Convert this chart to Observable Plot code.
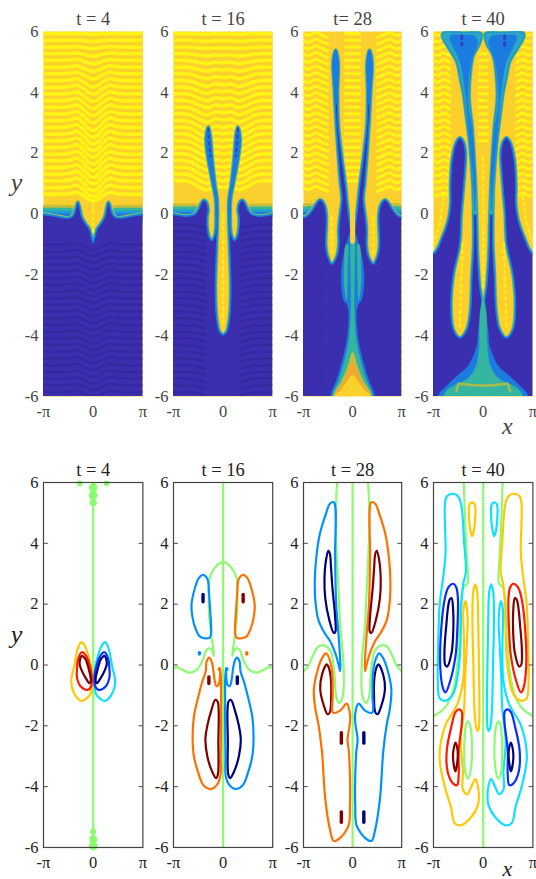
<!DOCTYPE html>
<html><head><meta charset="utf-8">
<script src="https://cdn.jsdelivr.net/npm/d3@7"></script>
<script src="https://cdn.jsdelivr.net/npm/@observablehq/plot@0.6"></script>
<style>
html,body{margin:0;padding:0;background:#fff;width:536px;height:879px;overflow:hidden}
#page{position:relative;width:536px;height:879px;overflow:hidden}
#page svg{position:absolute;max-width:none;background:transparent;overflow:visible}
.heat g[aria-label="line"],.heat g[aria-label="frame"]{filter:blur(.7px)}
.heat text{fill:#444}
</style></head><body><div id="page"></div>
<script>
const PI = Math.PI;
// ---------- axes / labels
const titlesTop = ["t = 4", "t = 16", "t= 28", "t = 40"];
const titlesBottom = ["t = 4", "t = 16", "t = 28", "t = 40"];
const yTicks = [-6, -4, -2, 0, 2, 4, 6];
const innerTicks = [-4, -2, 0, 2, 4];
const xTicks = [-PI, 0, PI];
const xTickLabels = ["-π", "0", "π"];

// ---------- heat map: stripe rows
const upperLevels = [5.93,5.71,5.49,5.27,5.05,4.83,4.61,4.39,4.17,3.95,3.73,3.51,3.29,3.07,2.85,2.63,2.41,2.19,1.97,1.75,1.53,1.31,1.09,.87,.65];
const upperFade = [.05,.1,.15,.25,.35,.45,.55,.65,.7,.75,.8,.85,.9,1,1,1,1,1,1,1,1,1,1,.9,.7];
const lowerLevels = [-.35,-.57,-.79,-1.01,-1.23,-1.45,-1.67,-1.89,-2.11,-2.33,-2.55,-2.77,-2.99,-3.21,-3.43,-3.65,-3.87,-4.09,-4.31,-4.53,-4.75,-4.97,-5.19,-5.41,-5.63,-5.85];
const waveX1 = [-3.2,-1.9,-1.45,-1.05,-.6,-.25,0,.25,.6,1.05,1.45,1.9,3.2];
const waveY1 = [0,0,.03,.09,-.08,-.27,-.33,-.27,-.08,.09,.03,0,0];
const waveX2 = [-3.2,-2.4,-2,-1.5,-1,-.5,0,.5,1,1.5,2,2.4,3.2];
const waveY2 = [0,0,-.05,-.2,-.3,-.18,-.22,-.18,-.3,-.2,-.05,0,0];
const zigX3L = [-3.2,-2.8,-2.35,-1.95,-1.6];
const zigY3 = [-.02,-.12,.07,-.1,-.24];
const zigX3R = [1.6,1.95,2.35,2.8,3.2];
const zigY3R = [-.24,-.1,.07,-.12,-.02];
const zigX4L = [-3.2,-2.85,-2.5,-2.1];
const zigY4 = [0,-.1,.06,-.12];
const zigX4R = [2.1,2.5,2.85,3.2];
const zigY4R = [-.12,.06,-.1,0];
const ladder3 = [-.45,.45];
const ladder4 = [-.26,.26];
const flat2 = [0,0];
const lowX2L = [-3.2,-1.8,-1.15];
const lowX2R = [1.15,1.8,3.2];
const lowY2L = [0,-.05,-.22];
const lowY2R = [-.22,-.05,0];
const lowX3L = [-3.2,-1.95];
const lowX3R = [1.95,3.2];

// ---------- heat map: region outlines (right half, mirrored on x = 0)
const blue1 = [[0,-.95],[.1,-.78],[.25,-.5],[.55,-.28],[.75,-.08],[.86,.2],[.97,.38],[1.08,.2],[1.2,0],[1.4,-.12],[1.7,-.14],[4,-.14],[4,-7],[0,-7]];
const blue2 = [[0,-3.98],[.25,-3.85],[.42,-3.4],[.5,-2.5],[.45,-1.5],[.38,-.5],[.36,0],[.38,.5],[.53,1],[.73,2],[.8,2.5],[.93,2.85],[1.07,2.5],[1,2],[.65,1],[.47,.5],[.44,0],[.46,-.5],[.55,-.75],[.72,-.88],[.9,-.75],[1,-.5],[1.02,-.1],[.95,.15],[1.08,.4],[1.22,.45],[1.38,.35],[1.55,.15],[1.8,-.02],[2.3,-.08],[4,-.1],[4,-7],[0,-7]];
const blue3 = [[0,-.8],[.15,-.5],[.2,-.3],[.3,.1],[.48,1],[.73,2],[.93,3],[.97,4],[.93,5],[1.08,5.38],[1.24,5],[1.15,4],[1.05,3],[.92,2],[.77,1],[.67,.5],[.78,0],[.88,-.5],[.87,-1],[1,-1.4],[1.33,-1.65],[1.6,-1.4],[1.73,-1],[1.7,-.5],[1.68,-.1],[1.78,.25],[1.95,.42],[2.1,.46],[2.3,.35],[2.6,.1],[3,-.1],[4,-.2],[4,-7],[0,-7]];
const blue4 = [[0,-3],[.2,-2.5],[.35,-1.5],[.43,0],[.5,1],[.6,2],[.72,2.9],[.9,3.8],[.85,4.5],[.65,5.2],[.25,5.6],[.15,5.92],[1.2,5.94],[2.55,5.92],[1.65,5],[1.45,4.5],[1.25,4],[1.12,3.5],[1,3],[.88,2.5],[.65,1],[.6,0],[.6,-1],[.7,-2],[.8,-3.2],[1.02,-3.8],[1.47,-4.08],[1.9,-3.8],[2.05,-3],[1.9,-2],[1.5,-1],[1.4,0],[1.24,1],[1.13,2],[1.25,2.35],[1.47,2.5],[1.7,2.35],[1.95,1.8],[2.05,1],[2.05,.3],[2.2,-.2],[2.6,-.8],[3.1,-1.3],[4,-1.4],[4,-7],[0,-7]];
// interface halos
const halo1 = [[-4,-.06],[-1.5,-.06]];
const halo1R = [[1.5,-.06],[4,-.06]];
const halo2 = [[-4,-.02],[-1.8,-.02]];
const halo2R = [[1.8,-.02],[4,-.02]];
// overlays for t = 16
const core2 = [[.93,2.8],[.9,2.4],[.8,1.9]];
const mid2 = [[.93,2.85],[1.07,2.5],[1,2],[.65,1],[.47,.5],[.44,0],[.36,0],[.38,.5],[.53,1],[.73,2],[.8,2.5]];
const dots2 = [[0,-3.6],[0,.1]];
// overlays for t = 28
const upper3 = [[1.08,5.38],[1.24,5],[1.16,4.2],[1.07,3.6],[.98,3.6],[.97,4.2],[.93,5]];
const column3a = [[0,-.5],[.4,-1],[.7,-1.8],[.72,-2.3],[.55,-2.85],[.38,-2.95],[.25,-3.2],[.3,-3.9],[.45,-4.4],[.75,-5],[1.05,-5.5],[1.4,-5.95],[1.4,-7],[0,-7]];
const column3b = [[0,-.4],[.14,-1],[.12,-2],[.1,-3],[.2,-4],[.36,-4.5],[.6,-5],[.9,-5.5],[1.25,-5.92],[1.25,-7],[0,-7]];
const mini3 = [[.42,-1],[.54,-1.8],[.52,-2.4],[.38,-2.85],[.34,-2.3],[.3,-1.5],[.32,-1]];
const flare3a = [[0,-4.55],[.3,-5],[.7,-5.5],[1.18,-5.93],[1.18,-7],[0,-7]];
const flare3b = [[0,-4.9],[.45,-5.4],[.8,-5.7],[1.12,-5.93],[1.12,-7],[0,-7]];
const flare3c = [[0,-5.3],[.4,-5.55],[.85,-5.85],[1.08,-5.93],[1.08,-7],[0,-7]];
const dots3 = [[1.33,-.1],[1.33,-1.35]];
const center3 = [[0,.2],[0,-.9]];
// overlays for t = 40
const funnel4a = [[.15,5.92],[1.2,5.94],[2.55,5.92],[1.65,5],[1.45,4.5],[1.25,4],[1.12,3.5],[1,3],[.88,2.5],[.65,1],[.6,0],[.43,0],[.5,1],[.6,2],[.72,2.9],[.9,3.8],[.85,4.5],[.65,5.2],[.25,5.6]];
const funnel4b = [[.55,5.85],[1.3,5.88],[2.1,5.85],[1.45,5],[1.2,4.3],[1.03,3.5],[.92,2.8],[.6,1],[.54,.1],[.5,1],[.72,2.8],[.95,3.5],[.95,4.3],[.72,5.1],[.35,5.65]];
const funnelSpot = [[1.35,5.85],[1.35,5.55]];
const flare4a = [[0,-3.3],[.3,-3.8],[.38,-4.3],[.95,-5],[1.6,-5.3],[2.4,-5.7],[2.8,-5.95],[2.8,-7],[0,-7]];
const flare4b = [[0,-2.75],[.2,-3.3],[.26,-4.4],[.45,-5],[.95,-5.4],[2,-5.68],[2.45,-5.92],[2.45,-7],[0,-7]];
const band4 = [[-1.7,-5.82],[-1.55,-5.58],[-.8,-5.62],[0,-5.65],[.8,-5.62],[1.55,-5.58],[1.7,-5.82]];
const dots4 = [[1.47,-3.7],[1.3,-.9]];
const dots4b = [[0,-2.4],[0,2]];
const side4 = [[3.14,-1.0],[2.7,-.2],[2.5,.6]];

// ---------- contour map: t = 4
const c1outer = [[.76,.75],[1.0,.5],[1.18,0],[1.39,-.53],[1.24,-.9],[.76,-1.18],[.23,-1],[.08,-.7],[.1,-.3],[.15,0],[.3,.3],[.5,.6]];
const c1mid = [[.72,.42],[.95,.2],[1.02,-.1],[1.03,-.4],[.8,-.7],[.35,-.82],[.13,-.7],[.1,-.3],[.25,.05],[.45,.3]];
const c1inner = [[.72,.3],[.86,.05],[.75,-.15],[.45,-.45],[.23,-.6],[.15,-.5],[.3,-.1],[.5,.2]];
const c1blobsX = [0,0,0,0,0,0,.85,-.85];
const c1blobsY = [5.83,5.58,5.34,-5.48,-5.73,-5.95,5.97,5.97];
const c1blobsR = [2.8,3,2,1.4,2.4,3,1.2,1.2];
// t = 16
const c2arch = [[0,3.4],[.35,3.3],[.65,3.1],[.86,2.85],[.9,2.5],[.88,1.6],[.7,.8],[.57,.3],[.72,.5],[.92,.55],[1.1,.45],[1.25,.2],[1.45,0],[1.65,-.15],[2.1,-.25],[2.5,-.18],[2.9,-.08],[3.3,-.1]];
const c2top = [[.95,2.75],[1.08,2.9],[1.28,2.96],[1.55,2.85],[1.8,2.5],[2,2],[1.95,1.6],[1.75,1.2],[1.5,.95],[1.2,.88],[.85,.9],[.76,1.05],[.82,1.8],[.9,2.4]];
const c2low = [[.18,-.12],[.2,-.4],[.28,-.65],[.42,-.7],[.52,-.55],[.6,-.25],[.72,.1],[.88,.24],[1.05,.1],[1.1,-.2],[1.35,-.6],[1.6,-1.1],[1.85,-1.7],[1.93,-2.4],[1.85,-3],[1.6,-3.5],[1.25,-3.95],[.8,-4.08],[.4,-3.95],[.17,-3.65],[.15,-3],[.13,-2],[.13,-1],[.13,-.5]];
const c2navy = [[.35,-1.2],[.5,-1.15],[.75,-1.5],[1,-2],[1.12,-2.45],[1,-3],[.7,-3.5],[.45,-3.72],[.33,-3.6],[.3,-2.5],[.28,-1.5]];
const c2spotX = [-1.27,1.27,-.9,.9,-1.5,1.5,-.23,.23];
const c2spotY = [2.2,2.2,-.5,-.5,.38,.38,-.14,-.14];
const c2spotH = [.12,.12,.11,.11,.02,.02,.02,.02];
const c2spotC = ["#00007f","#7f0000","#7f0000","#00007f","#0090ff","#ff7000","#ff7000","#0090ff"];
// t = 28
const c3green = [[.97,6.2],[1.05,5.4],[1.07,4.5],[1,3.5],[.88,2.2],[.78,1.2],[.65,.5],[.58,0],[.62,-1],[.85,-1.25],[1.03,-1.1],[1.15,-.4],[1.25,.1],[1.4,.45],[1.9,.65],[2.2,.6],[2.55,.3],[2.85,-.05],[3.3,-.28]];
const c3big = [[1.2,5.35],[1.45,5.3],[1.75,4.9],[2.1,4.3],[2.35,3.4],[2.42,2.7],[2.38,2.1],[2.2,1.5],[1.85,1.1],[1.4,.75],[1.05,.3],[.85,-.1],[.8,-.2],[.78,0],[.9,1],[1.05,2],[1.12,3.5]];
const c3core = [[1.45,3.65],[1.55,3.75],[1.7,3.45],[1.8,2.8],[1.75,2.2],[1.5,1.5],[1.2,1.05],[1.1,1.1],[1.12,1.6],[1.3,2.6],[1.38,3.2]];
const c3bump = [[1.65,.02],[1.95,-.3],[2.07,-.8],[1.8,-1.4],[1.6,-1.62],[1.45,-1.55],[1.37,-1],[1.4,-.4],[1.55,-.05]];
const c3low = [[1.7,.38],[1.98,.2],[2.2,-.1],[2.48,-.8],[2.38,-1.45],[2.17,-2],[1.96,-2.85],[1.75,-4.4],[1.43,-5.45],[1.22,-5.78],[.9,-5.73],[.27,-5.3],[.17,-4.63],[.23,-2.9],[.32,-2.45],[.17,-1.9],[.17,-1.6],[.38,-1.27],[.8,-1.5],[1.25,-1.57],[1.27,-1],[1.3,-.3],[1.45,.15]];
const c3spotX = [-.72,.72,-.72,.72];
const c3spotY = [-2.4,-2.4,-5,-5];
const c3spotH = [.17,.17,.17,.17];
const c3spotC = ["#7f0000","#00007f","#7f0000","#00007f"];
// t = 40
const c4green = [[1.24,6.2],[1.15,4.8],[1.03,3.5],[.97,3],[1,2.68],[1.25,2.55],[1.35,2.3],[1.5,1.5],[1.58,.5],[1.7,-.3],[2,-1],[2.5,-1.45],[3.3,-1.72]];
const c4upper = [[1.9,5.63],[2.3,5.55],[2.42,5.3],[2.38,3.7],[2.5,3],[2.75,2],[2.85,.5],[2.87,-.5],[2.75,-1.1],[2.4,-1.18],[1.9,-.95],[1.6,-.3],[1.45,.5],[1.38,2],[1.25,2.7],[1.1,3.05],[1.2,4],[1.4,5.3],[1.6,5.55]];
const c4mid = [[1.9,2.67],[2.2,2.55],[2.42,2.2],[2.65,1.2],[2.72,0],[2.55,-.75],[2.38,-.9],[2.1,-.55],[1.75,.3],[1.65,1],[1.6,2.2],[1.7,2.55]];
const c4core = [[2,2.2],[2.12,2.15],[2.35,1.2],[2.45,.4],[2.4,0],[2.27,-.05],[2,.4],[1.9,1],[1.9,1.8]];
const c4lowerOuter = [[1.12,2.1],[1.25,1.8],[1.22,.8],[1.27,-.5],[1.63,-1.28],[2.4,-2],[2.76,-3],[2.44,-3.98],[2.05,-4.65],[1.8,-5.2],[1.4,-5.27],[.75,-5],[.33,-4.6],[.33,-4],[.5,-3.75],[.75,-4],[1,-4.25],[1.28,-4.1],[1.28,-3.5],[1.42,-2.5],[1.2,-1.4],[1.15,-.5],[1.03,.8],[.98,1.5]];
const c4column = [[.5,2.65],[.63,2.4],[.68,1.5],[.62,0],[.55,-1.5],[.45,-2.05],[.35,-2.17],[.27,-2.05],[.24,-1.5],[.27,0],[.32,1.5],[.38,2.4]];
const c4small = [[.65,5.34],[.85,5.3],[.9,4.9],[.8,4.4],[.7,4.24],[.6,4.4],[.5,4.9],[.52,5.25]];
const c4blob = [[.95,-1.85],[1.05,-1.9],[1.2,-3],[1.1,-3.6],[.95,-3.74],[.75,-3.3],[.72,-2.5],[.82,-2]];
const c4lowBlue = [[1.5,-1.46],[1.75,-1.55],[2,-2],[2.3,-2.8],[2.25,-3.5],[1.9,-3.9],[1.65,-3.95],[1.55,-3.6],[1.55,-2.8],[1.35,-1.9],[1.35,-1.55]];
const c4lowCore = [[1.75,-2.55],[1.88,-2.8],[1.9,-3.1],[1.75,-3.5],[1.62,-3.1],[1.62,-2.8]];

// ---------- colours
const BLUE="#3a2fae", DARK="#3529a3", DARK2="#382dab", AMBER="#fbcf2d", YELLOW="#fff416", MID="#1c7be0", LIGHT="#1e9fd8", TEAL="#33b5a0", OLIVE="#c6bd3a";
const NAVY="#00007f", DRED="#7f0000", AZ="#0090ff", ORG="#ff7000", CY="#10e0ff", YL="#ffc800", RED="#ff1a00", BL="#0a30ff", GRN="#8cfb72";

// ---------- helpers
const flip = pts => pts.map(([x,y]) => [-x,y]);
const whole = half => half.concat(flip(half).reverse().filter(p => p[0] !== 0));
const px = d => d[0], py = d => d[1];
const area = (pts, fill, extra={}) => Plot.line(pts, {x:px, y:py, fill, stroke:fill, strokeWidth:.5, curve:"catmull-rom-closed", clip:"frame", ...extra});
const region = pts => [[4.6,OLIVE],[3.5,TEAL],[2.4,LIGHT],[1.2,MID]].map(([w,c],i) =>
  Plot.line(pts, {x:px, y:py, stroke:c, strokeWidth:w, fill:i==3?BLUE:"none", curve:"catmull-rom-closed", clip:"frame", strokeLinejoin:"round"}));
const halo = pts => [[22,OLIVE],[16,TEAL],[10,LIGHT],[5,MID]].map(([w,c]) =>
  Plot.line(pts, {x:px, y:py, stroke:c, strokeWidth:w, clip:"frame"}));
const rows = (levels, xs, dys, fades) => levels.flatMap((lv,i) => xs.map((x,j) => ({x, y:lv + dys[j]*(fades?fades[i]:.5), lv})));
const stripes = (levels, xs, dys, fades, color, w) => Plot.line(rows(levels,xs,dys,fades), {x:"x", y:"y", z:"lv", stroke:color, strokeWidth:w, curve:"catmull-rom", clip:"frame"});
const dashes = (pts, color=YELLOW, w=2.6) => Plot.line(pts, {x:px, y:py, stroke:color, strokeWidth:w, strokeOpacity:.75, strokeDasharray:"2.5 4.2", clip:"frame"});
const sub = (arr, a, b) => arr.slice(a, b);

const heatMarks = [
  // t = 4
  [
    stripes(upperLevels, waveX1, waveY1, upperFade, YELLOW, 3.7),
    ...halo(halo1), ...halo(halo1R),
    ...region(whole(blue1)),
    stripes(sub(lowerLevels,3), waveX1, waveY1, null, DARK, 2.6),
    dashes([[0,-.6],[0,.3]])
  ],
  // t = 16
  [
    stripes(sub(upperLevels,0,23), waveX2, waveY2, upperFade, YELLOW, 3.6),
    ...halo(halo2), ...halo(halo2R),
    ...region(whole(blue2)),
    area(mid2, MID), area(flip(mid2), MID),
    stripes(lowerLevels, lowX2L, lowY2L, null, DARK, 2.6),
    stripes(lowerLevels, lowX2R, lowY2R, null, DARK, 2.6),
    dashes(core2, BLUE, 2), dashes(flip(core2), BLUE, 2),
    dashes(dots2)
  ],
  // t = 28
  [
    stripes(sub(upperLevels,0,24), zigX3L, zigY3, null, YELLOW, 3.1),
    stripes(sub(upperLevels,0,24), zigX3R, zigY3R, null, YELLOW, 3.1),
    stripes(sub(upperLevels,0,23), ladder3, flat2, null, YELLOW, 3.1),
    ...halo([[-4,-.1],[-2.7,0]]), ...halo([[2.7,0],[4,-.1]]),
    ...region(whole(blue3)),
    area(upper3, MID), area(flip(upper3), MID),
    stripes(lowerLevels, lowX3L, flat2, null, DARK2, 2),
    stripes(lowerLevels, lowX3R, flat2, null, DARK2, 2),
    area(whole(column3a), MID),
    area(mini3, TEAL), area(flip(mini3), TEAL),
    area(whole(column3b), TEAL),
    area(whole(flare3a), OLIVE), area(whole(flare3b), "#f0a832"), area(whole(flare3c), "#fbd22b"),
    dashes(dots3), dashes(flip(dots3)),
    Plot.line(center3, {x:px, y:py, stroke:AMBER, strokeWidth:5, clip:"frame"})
  ],
  // t = 40
  [
    stripes(sub(upperLevels,0,25), zigX4L, zigY4, null, YELLOW, 2.9),
    stripes(sub(upperLevels,0,25), zigX4R, zigY4R, null, YELLOW, 2.9),
    stripes(sub(upperLevels,3,17), ladder4, flat2, null, YELLOW, 2.9),
    ...region(whole(blue4)),
    area(funnel4a, "#2ca9c0"), area(flip(funnel4a), "#2ca9c0"),
    area(funnel4b, MID), area(flip(funnel4b), MID),
    dashes(funnelSpot, BLUE, 3), dashes(flip(funnelSpot), BLUE, 3),
    area(whole(flare4a), MID),
    area(whole(flare4b), TEAL),
    Plot.line(band4, {x:px, y:py, stroke:"#a5bd4c", strokeWidth:2.6, clip:"frame"}),
    dashes(dots4), dashes(flip(dots4)), dashes(dots4b), dashes(side4), dashes(flip(side4))
  ]
];

// ---------- contour marks
const LW = 2.2;
const closed = (pts, stroke) => Plot.line(pts, {x:px, y:py, stroke, strokeWidth:LW, curve:"catmull-rom-closed", clip:"frame"});
const open = (pts, stroke) => Plot.line(pts, {x:px, y:py, stroke, strokeWidth:LW, curve:"catmull-rom", clip:"frame"});
const pair = (pts, right, left) => [closed(pts,right), closed(flip(pts),left)];
const openPair = pts => [open(pts,GRN), open(flip(pts),GRN)];
const spots = (xs, ys, hs, cs) => Plot.link(xs.map((x,i)=>i), {x1:i=>xs[i], x2:i=>xs[i], y1:i=>ys[i]-hs[i], y2:i=>ys[i]+hs[i], stroke:i=>cs[i], strokeWidth:3.4, strokeLinecap:"round"});
const axisLine = [[0,-6],[0,6]];

const contourMarks = [
  [
    Plot.dot(c1blobsX.map((x,i)=>i), {x:i=>c1blobsX[i], y:i=>c1blobsY[i], r:i=>c1blobsR[i], fill:GRN}),
    open(axisLine, GRN),
    ...pair(c1outer, CY, YL), ...pair(c1mid, BL, RED), ...pair(c1inner, NAVY, DRED)
  ],
  [
    open(axisLine, GRN), ...openPair(c2arch),
    closed(c2top, ORG), closed(flip(c2top), AZ),
    ...pair(c2low, AZ, ORG), ...pair(c2navy, NAVY, DRED),
    spots(c2spotX, c2spotY, c2spotH, c2spotC)
  ],
  [
    open(axisLine, GRN), ...openPair(c3green),
    closed(c3big, ORG), closed(flip(c3big), AZ),
    closed(c3core, DRED), closed(flip(c3core), NAVY),
    ...pair(c3bump, NAVY, DRED), ...pair(c3low, AZ, ORG),
    spots(c3spotX, c3spotY, c3spotH, c3spotC)
  ],
  [
    open(axisLine, GRN), ...openPair(c4green),
    closed(c4upper, YL), closed(flip(c4upper), CY),
    closed(c4mid, RED), closed(flip(c4mid), BL),
    closed(c4core, DRED), closed(flip(c4core), NAVY),
    ...pair(c4lowerOuter, CY, YL), ...pair(c4column, CY, YL), ...pair(c4small, CY, YL),
    ...pair(c4blob, GRN, GRN), ...pair(c4lowBlue, BL, RED), ...pair(c4lowCore, NAVY, DRED)
  ]
];

// ---------- layout
const panelLeft = [43.4, 173.4, 303.2, 432.8];
const panelWidth = [99.4, 99.2, 98.2, 99.4];
const marginLeft = 43, marginRight = 14, marginTop = 31, marginBottom = 32;

function panel(i, top, heat) {
  const m = heat ? heatMarks[i] : contourMarks[i];
  const title = (heat ? titlesTop : titlesBottom)[i];
  const extra = [];
  if (heat && i === 0) extra.push(Plot.text(["y"], {x:-PI, y:1.03, dx:-27, fontSize:26, fontStyle:"italic", fill:"#222"}));
  if (!heat && i === 0) extra.push(Plot.text(["y"], {x:-PI, y:1.0, dx:-27, fontSize:26, fontStyle:"italic", fill:"#222"}));
  if (i === 3) extra.push(Plot.text(["x"], {x:1.53, y:-6, dy: heat ? 30 : 21, fontSize:heat?24:22, fontStyle:"italic", fill:"#222"}));
  const frame = heat ? [Plot.frame({fill:AMBER, stroke:null})] : [];
  const ticks = heat ? [] : [
    Plot.frame({stroke:"#444", strokeWidth:1.2}),
    Plot.link(innerTicks, {x1:-PI, x2:-PI+.27, y1:d=>d, y2:d=>d, stroke:"#444"}),
    Plot.link(innerTicks, {x1:PI, x2:PI-.27, y1:d=>d, y2:d=>d, stroke:"#444"})
  ];
  const svg = Plot.plot({
    className: heat ? "heat" : "cont",
    width: marginLeft + panelWidth[i] + marginRight,
    height: marginTop + 365 + marginBottom,
    marginLeft, marginRight, marginTop, marginBottom,
    style: {fontFamily:"'Liberation Serif', serif", fontSize:"16.5px", color:"#222", background:"transparent", overflow:"visible"},
    x: {domain:[-PI,PI]},
    y: {domain:[-6,6]},
    marks: [
      ...frame,
      ...m,
      ...ticks,
      Plot.axisY(yTicks, {anchor:"left", tickSize:0, tickPadding:5, label:null, tickFormat:d=>String(d)}),
      Plot.axisX(xTicks, {anchor:"bottom", tickSize:0, tickPadding:9, label:null, tickFormat:(d,k)=>xTickLabels[k]}),
      Plot.text([title], {x:0, y:6, dy:-12.5, fontSize:18.5, fill:"#222"}),
      ...extra
    ]
  });
  svg.style.left = (panelLeft[i] - marginLeft) + "px";
  svg.style.top = (top - marginTop) + "px";
  document.getElementById("page").appendChild(svg);
}
for (let i = 0; i < 4; i++) panel(i, 31.2, true);
for (let i = 0; i < 4; i++) panel(i, 481.7, false);
</script></body></html>
